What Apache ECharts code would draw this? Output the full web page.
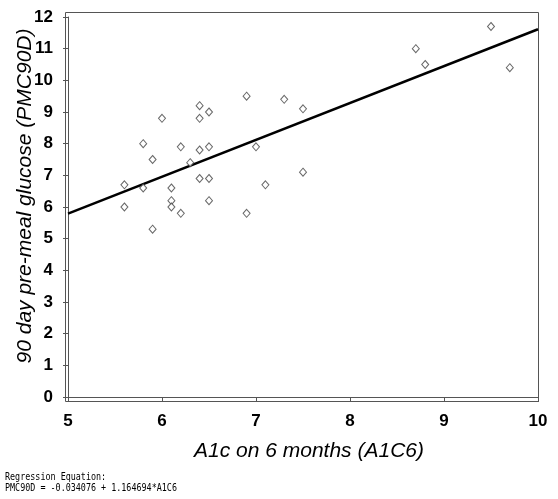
<!DOCTYPE html>
<html><head><meta charset="utf-8">
<script src="https://cdn.jsdelivr.net/npm/echarts@6/dist/echarts.min.js"></script>
<style>html,body{margin:0;padding:0;background:#fff}#c{width:558px;height:499px}</style>
</head><body><div id="c"></div>
<script>
const xLabel = 'A1c on 6 months (A1C6)';
const yLabel = '90 day pre-meal glucose (PMC90D)';
const a1c6 = [5.6,5.6,5.8,5.8,5.9,5.9,6.0,6.1,6.1,6.1,6.2,6.2,6.3,6.4,6.4,6.4,6.4,6.5,6.5,6.5,6.5,6.9,6.9,7.0,7.1,7.3,7.5,7.5,8.7,8.8,9.5,9.7];
const pmc90d = [6.7,6.0,8.0,6.6,7.5,5.3,8.8,6.6,6.2,6.0,7.9,5.8,7.4,9.2,8.8,7.8,6.9,9.0,7.9,6.9,6.2,9.5,5.8,7.9,6.7,9.4,9.1,7.1,11.0,10.5,11.7,10.4];
const intercept = -0.034076;
const slope = 1.164694;
const lineX = [5, 10];
const eqLines = ['Regression Equation:', 'PMC90D = -0.034076 + 1.164694*A1C6'];

const points = a1c6.map((x, i) => [x, pmc90d[i]]);
const fitLine = lineX.map(x => [x, intercept + slope * x]);

const chart = echarts.init(document.getElementById('c'));
const axisFont = {fontFamily: 'Liberation Sans', fontSize: 17, fontWeight: 'bold', color: '#000'};
chart.setOption({
  animation: false,
  backgroundColor: '#fff',
  grid: {left: 68, right: 20, top: 17, bottom: 102, containLabel: false, outerBoundsMode: 'none'},
  xAxis: {
    type: 'value', min: 5, max: 10, interval: 1,
    axisLine: {show: true, lineStyle: {color: '#555', width: 1}},
    axisTick: {show: true, length: 5, lineStyle: {color: '#555'}},
    axisLabel: Object.assign({margin: 16}, axisFont),
    splitLine: {show: false},
    name: xLabel, nameLocation: 'middle', nameGap: 44,
    nameTextStyle: {fontFamily: 'Liberation Sans', fontSize: 21, fontStyle: 'italic', color: '#000', padding: [0, 0, 0, 12]}
  },
  yAxis: {
    type: 'value', min: 0, max: 12, interval: 1,
    axisLine: {show: true, lineStyle: {color: '#555', width: 1}},
    axisTick: {show: true, length: 5, lineStyle: {color: '#555'}},
    axisLabel: Object.assign({margin: 15}, axisFont),
    splitLine: {show: false}
  },
  graphic: [
    {type: 'rect', shape: {x: 65.5, y: 12.5, width: 473, height: 389}, style: {fill: 'none', stroke: '#555', lineWidth: 1}, silent: true, z: 0},
    {type: 'text', x: 25, y: 196, rotation: Math.PI / 2,
     style: {text: yLabel, font: 'italic 21px "Liberation Sans"', fill: '#000', align: 'center', verticalAlign: 'middle'}},
    {type: 'text', left: 5, top: 472, style: {text: eqLines.join('\n'), font: '8px "DejaVu Sans Mono"', fill: '#000', lineHeight: 8}, scaleY: 1.35, scaleX: 1.05}
  ],
  series: [
    {type: 'line', data: fitLine, symbol: 'none', lineStyle: {color: '#000', width: 2.5}, z: 2},
    {type: 'scatter', data: points, symbol: 'diamond', symbolSize: [7, 8],
     itemStyle: {color: '#fff', borderColor: '#444', borderWidth: 1}, z: 3}
  ]
});
</script></body></html>
